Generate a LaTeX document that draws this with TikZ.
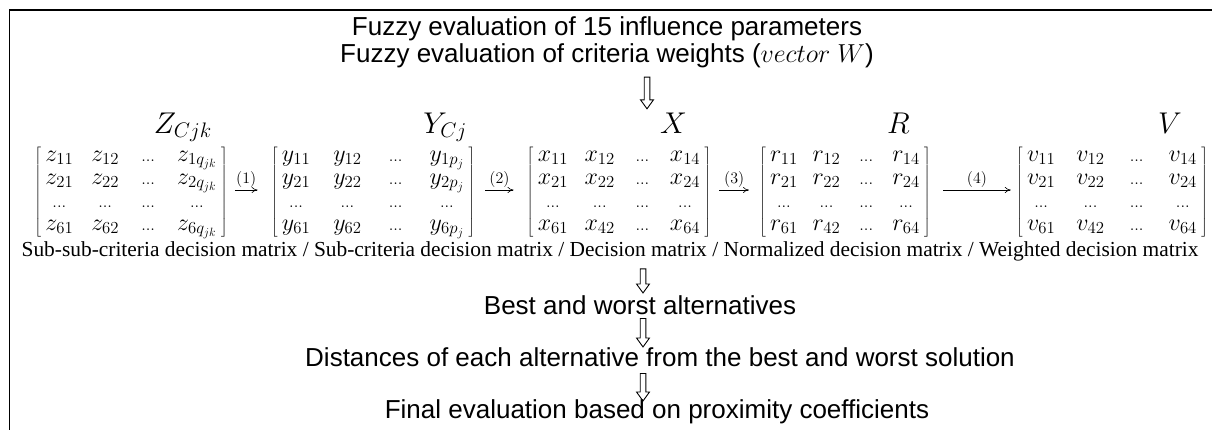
\RequirePackage{fix-cm}
\documentclass[tikz,border=0pt]{standalone}
\usepackage{amsmath}
\usepackage{fontspec}
\setmainfont{Liberation Serif}
\newfontfamily\arialfont{Liberation Sans}
\usetikzlibrary{matrix,arrows.meta,calc}

\newcommand{\mdots}{{\scriptstyle...}}
% hollow down arrow from #1 to #2
\newcommand{\hollowarrow}[2]{%
  \draw[hollow] ($(#1)+(-2.8,0)$) -- ($(#2)+(-2.8,-9)$) -- ($(#2)+(-6.5,-9)$) -- (#2)
    -- ($(#2)+(6.5,-9)$) -- ($(#2)+(2.8,-9)$) -- ($(#1)+(2.8,0)$) -- cycle;}

\tikzset{
  stage/.style={font=\arialfont\fontsize{26}{30}\selectfont, inner sep=0pt, anchor=base},
  mat/.style={matrix of math nodes, left delimiter={[}, right delimiter={]},
    nodes={font=\fontsize{24}{28}\selectfont, text height=12pt, text depth=5pt,
      inner sep=3pt, minimum width=28pt},
    inner sep=0pt, column sep=#1, row sep=0pt},
  lab/.style={font=\fontsize{30}{34}\selectfont, anchor=base east, inner sep=0pt},
  num/.style={font=\fontsize{16}{18}\selectfont, inner sep=2pt},
  link/.style={-{To[length=6pt,width=6pt]}, line width=0.6pt},
  hollow/.style={line width=0.9pt, line join=miter}
}

\begin{document}
\begin{tikzpicture}[x=1pt, y=-1pt]
  \useasboundingbox (0,0) rectangle (1212,429);
  \clip (0,0) rectangle (1212,429);

  % frame (only top and left edges are visible)
  \draw[line width=1.3pt] (9.5,600) |- (1400,10);

  % top lines
  \node[stage] (top1) at (607,35) {Fuzzy evaluation of 15 influence parameters};
  \node[stage] (top2) at (607,62) {Fuzzy evaluation of criteria weights ($vector\ W$)};

  % matrices
  \matrix (m1) [mat=12pt] at (131,192) {
    z_{11} & z_{12} & \mdots & z_{1q_{jk}} \\
    z_{21} & z_{22} & \mdots & z_{2q_{jk}} \\
    \mdots & \mdots & \mdots & \mdots \\
    z_{61} & z_{62} & \mdots & z_{6q_{jk}} \\
  };
  \matrix (m2) [mat=17pt] at (373,192) {
    y_{11} & y_{12} & \mdots & y_{1p_j} \\
    y_{21} & y_{22} & \mdots & y_{2p_j} \\
    \mdots & \mdots & \mdots & \mdots \\
    y_{61} & y_{62} & \mdots & y_{6p_j} \\
  };
  \matrix (m3) [mat=10.5pt] at (619,192) {
    x_{11} & x_{12} & \mdots & x_{14} \\
    x_{21} & x_{22} & \mdots & x_{24} \\
    \mdots & \mdots & \mdots & \mdots \\
    x_{61} & x_{42} & \mdots & x_{64} \\
  };
  \matrix (m4) [mat=9pt] at (845,192) {
    r_{11} & r_{12} & \mdots & r_{14} \\
    r_{21} & r_{22} & \mdots & r_{24} \\
    \mdots & \mdots & \mdots & \mdots \\
    r_{61} & r_{42} & \mdots & r_{64} \\
  };
  \matrix (m5) [mat=15pt] at (1112,192) {
    v_{11} & v_{12} & \mdots & v_{14} \\
    v_{21} & v_{22} & \mdots & v_{24} \\
    \mdots & \mdots & \mdots & \mdots \\
    v_{61} & v_{42} & \mdots & v_{64} \\
  };

  % matrix names
  \node[lab] (lz) at (212,133) {$Z_{Cjk}$};
  \node[lab] (ly) at (467,133) {$Y_{Cj}$};
  \node[lab] (lx) at (687,133) {$X$};
  \node[lab] (lr) at (910,133) {$R$};
  \node[lab] (lv) at (1182,133) {$V$};

  % steps between matrices
  \draw[link] ([xshift=15pt,yshift=2pt]m1.east) -- ([xshift=-21pt,yshift=2pt]m2.west)
    node[midway, above, num] {$(1)$};
  \draw[link] ([xshift=18pt,yshift=2pt]m2.east) -- ([xshift=-21pt,yshift=2pt]m3.west)
    node[midway, above, num] {$(2)$};
  \draw[link] ([xshift=16pt,yshift=2pt]m3.east) -- ([xshift=-18pt,yshift=2pt]m4.west)
    node[midway, above, num] {$(3)$};
  \draw[link] ([xshift=20pt,yshift=2pt]m4.east) -- ([xshift=-13pt,yshift=2pt]m5.west)
    node[midway, above, num] {$(4)$};

  % caption under the matrices
  \node[anchor=base, inner sep=0pt, font=\fontsize{21.4}{24}\selectfont] (cap) at (610,256)
    {Sub-sub-criteria decision matrix / Sub-criteria decision matrix / Decision matrix / Normalized decision matrix / Weighted decision matrix};

  % lower steps
  \node[stage] (best) at (640,314) {Best and worst alternatives};
  \node[stage] (dist) at (660,366) {Distances of each alternative from the best and worst solution};
  \node[stage] (final) at (657,418) {Final evaluation based on proximity coefficients};

  % hollow arrows
  \coordinate (c0) at (647,0);
  \coordinate (c1) at (643,0);
  \coordinate (w0a) at ($(top2.south -| c0)+(0,9.5)$);
  \coordinate (w0b) at ($(lx.north -| c0)+(0,-3.5)$);
  \coordinate (w1a) at ($(cap.south -| c1)+(0,8)$);
  \coordinate (w1b) at ($(best.north -| c1)+(0,-2)$);
  \coordinate (w2a) at ($(best.south -| c1)+(0,4)$);
  \coordinate (w2b) at (dist.north -| c1);
  \coordinate (w3a) at ($(dist.south -| c1)+(0,7)$);
  \coordinate (w3b) at ($(final.north -| c1)+(0,2)$);
  \hollowarrow{w0a}{w0b}
  \hollowarrow{w1a}{w1b}
  \hollowarrow{w2a}{w2b}
  \hollowarrow{w3a}{w3b}
\end{tikzpicture}
\end{document}
